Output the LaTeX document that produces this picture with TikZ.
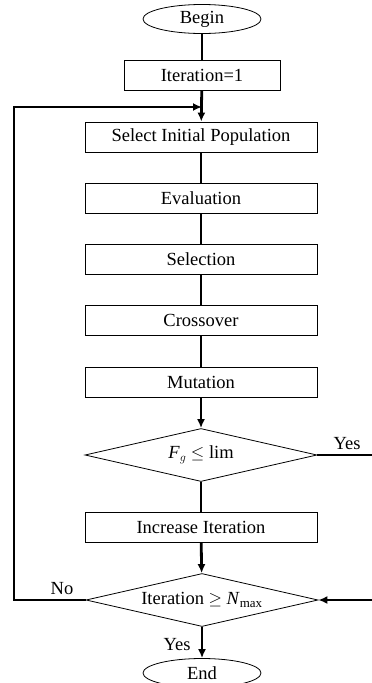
\documentclass[tikz,border=0pt]{standalone}
\usepackage{fontspec}
\setmainfont{Liberation Serif}
\usetikzlibrary{shapes.geometric,arrows.meta}
\begin{document}
\begin{tikzpicture}[x=1pt,y=-1pt,
  every node/.style={font=\fontsize{18.5}{22}\selectfont},
  box/.style={draw,line width=0.8pt,rectangle,minimum width=232pt,minimum height=30pt,inner sep=0pt},
  smallbox/.style={box,minimum width=156pt},
  term/.style={draw,line width=0.8pt,ellipse,minimum width=118pt,minimum height=29pt,inner sep=0pt},
  decision/.style={draw,line width=0.8pt,diamond,aspect=4.4,minimum width=232pt,minimum height=53pt,inner sep=0pt},
  flow/.style={line width=2.8pt},
  arr/.style={flow,-{Latex[length=9pt,width=8pt]}},
  lbl/.style={inner sep=0pt}]
\useasboundingbox (0,0) rectangle (372,683);
\node[term] (begin) at (202,19) {Begin};
\node[smallbox] (it1) at (202,75.5) {Iteration=1};
\node[box] (sel0) at (201,137) {Select Initial Population};
\node[box] (eval) at (201,198) {Evaluation};
\node[box] (selc) at (201,259) {Selection};
\node[box] (cross) at (201,320.5) {Crossover};
\node[box] (mut) at (201,382.5) {Mutation};
\node[decision] (d1) at (201,455) {\textit{F}$_g$ $\le$ lim};
\node[box] (inc) at (201,527.5) {Increase Iteration};
\node[decision] (d2) at (202,600) {Iteration $\ge$ \textit{N}$_{\mathrm{max}}$};
\node[term] (endn) at (202,673) {End};
\coordinate (j) at (202,107);
\coordinate (lt) at (14,107);
\coordinate (lb) at (14,600);
\coordinate (ry) at (372,455);
\coordinate (rn) at (372,600);
\draw[flow] (begin) -- (it1);
\draw[arr] (it1) -- (sel0);
\draw[arr] (d2.west) -- (lb) -- (lt) -- (j);
\draw[flow] (sel0) -- (eval);
\draw[flow] (eval) -- (selc);
\draw[flow] (selc) -- (cross);
\draw[flow] (cross) -- (mut);
\draw[arr] (mut) -- (d1);
\draw[flow] (d1) -- (inc);
\draw[arr] (inc) -- (d2);
\draw[arr] (d2) -- (endn);
\draw[flow] (d1.east) -- (ry);
\draw[arr] (rn) -- (d2.east);
\node[lbl] (yes1) at (347,444) {Yes};
\node[lbl] (no) at (62,589) {No};
\node[lbl] (yes2) at (177,645) {Yes};
\end{tikzpicture}
\end{document}
